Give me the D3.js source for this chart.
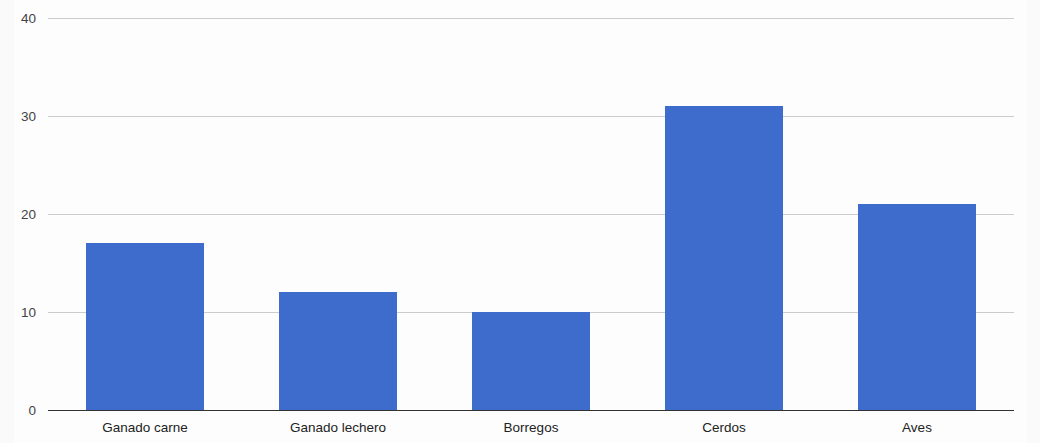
<!DOCTYPE html>
<html><head><meta charset="utf-8">
<script src="https://d3js.org/d3.v7.min.js"></script>
<style>
html,body{margin:0;padding:0;background:#fafafa;}
svg{display:block;}
text{font-family:"Liberation Sans",Arial,sans-serif;}
</style></head>
<body>
<script>
const categories = ["Ganado carne","Ganado lechero","Borregos","Cerdos","Aves"];
const values = [17, 12, 10, 31, 21];
const yTicks = [0, 10, 20, 30, 40];

const W = 1040, H = 443;
const svg = d3.select("body").append("svg").attr("width", W).attr("height", H);
svg.append("rect").attr("x",14).attr("y",0).attr("width",1013).attr("height",H).attr("fill","#fdfdfd");

const x = d3.scaleBand().domain(categories).range([48.5, 1013.5]).paddingInner(0.39).paddingOuter(0.195);
const y = d3.scaleLinear().domain([0, 40]).range([410, 18]);

const grid = svg.append("g");
grid.selectAll("line").data(yTicks.filter(d=>d>0)).join("line")
  .attr("x1", 48).attr("x2", 1014)
  .attr("y1", d=>Math.round(y(d))+0.5).attr("y2", d=>Math.round(y(d))+0.5)
  .attr("stroke","#cccccc").attr("stroke-width",1);

svg.append("g").selectAll("rect").data(values).join("rect")
  .attr("x",(d,i)=>Math.round(x(categories[i])))
  .attr("width",Math.round(x.bandwidth()))
  .attr("y",d=>Math.round(y(d)))
  .attr("height",d=>Math.round(y(0))-Math.round(y(d)))
  .attr("fill","#3d6ccd");

svg.append("line").attr("x1",48).attr("x2",1014)
  .attr("y1",Math.round(y(0))+0.5).attr("y2",Math.round(y(0))+0.5)
  .attr("stroke","#333333").attr("stroke-width",1);

svg.append("g").selectAll("text").data(yTicks).join("text")
  .attr("x",36).attr("y",d=>y(d)+5)
  .attr("text-anchor","end").attr("font-size",13.5).attr("fill","#444444")
  .text(d=>d);

svg.append("g").selectAll("text").data(categories).join("text")
  .attr("x",d=>x(d)+x.bandwidth()/2).attr("y",431.5)
  .attr("text-anchor","middle").attr("font-size",13.5).attr("fill","#222222")
  .text(d=>d);
</script>
</body></html>
